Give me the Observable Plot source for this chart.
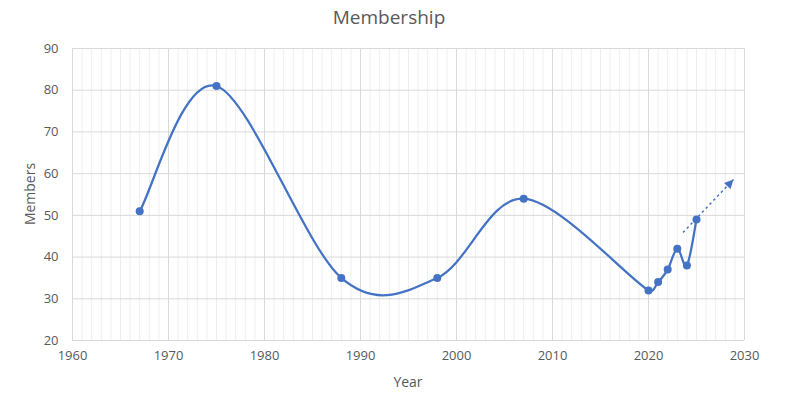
<!DOCTYPE html>
<html><head><meta charset="utf-8">
<script src="https://cdn.jsdelivr.net/npm/d3@7"></script>
<script src="https://cdn.jsdelivr.net/npm/@observablehq/plot@0.6"></script>
<style>
body{margin:0;background:#fff}
#wrap{position:relative;width:797px;height:396px;font-family:'Open Sans',sans-serif;color:#595959}
#title{position:absolute;top:4px;left:0;width:778px;text-align:center;font-size:19px}
#xlab{position:absolute;top:372px;left:0;width:816px;text-align:center;font-size:14px}
#ylab{position:absolute;left:29px;top:194px;transform:translate(-50%,-50%) rotate(-90deg);font-size:14px;white-space:nowrap}
#wrap svg{position:absolute;left:0;top:0}
</style>
</head><body>
<div id="wrap"><div id="title">Membership</div><div id="xlab">Year</div><div id="ylab">Members</div></div>
<script>
const title = "Membership";
const xLabel = "Year";
const yLabel = "Members";
const years = [1967, 1975, 1988, 1998, 2007, 2020, 2021, 2022, 2023, 2024, 2025];
const members = [51, 81, 35, 35, 54, 32, 34, 37, 42, 38, 49];
const trendYears = [2023.6, 2028.85];
const trendMembers = [45.9, 58.6];
const xTicks = [1960, 1970, 1980, 1990, 2000, 2010, 2020, 2030];
const yTicks = [20, 30, 40, 50, 60, 70, 80, 90];
const minorYears = d3.range(1960, 2031);

const data = years.map((y, i) => ({year: y, members: members[i]}));
const trend = [{x1: trendYears[0], y1: trendMembers[0], x2: trendYears[1], y2: trendMembers[1]}];

// Spreadsheet-style smoothed line: cardinal Bezier whose control arms are capped at half the segment length
function smoothCurve(context) {
  let pts = [];
  return {
    areaStart() {}, areaEnd() {},
    lineStart() { pts = []; },
    point(x, y) { pts.push([+x, +y]); },
    lineEnd() {
      const n = pts.length;
      if (!n) return;
      context.moveTo(pts[0][0], pts[0][1]);
      for (let i = 0; i < n - 1; i++) {
        const p0 = pts[Math.max(i - 1, 0)], p1 = pts[i], p2 = pts[i + 1], p3 = pts[Math.min(i + 2, n - 1)];
        const d12 = Math.hypot(p2[0] - p1[0], p2[1] - p1[1]);
        const d02 = Math.hypot(p2[0] - p0[0], p2[1] - p0[1]);
        const d13 = Math.hypot(p3[0] - p1[0], p3[1] - p1[1]);
        let f1 = 1 / 6, f2 = 1 / 6;
        if (d02 > 0 && d02 / 6 > d12 / 2) f1 = d12 / 2 / d02;
        if (d13 > 0 && d13 / 6 > d12 / 2) f2 = d12 / 2 / d13;
        context.bezierCurveTo(
          p1[0] + (p2[0] - p0[0]) * f1, p1[1] + (p2[1] - p0[1]) * f1,
          p2[0] - (p3[0] - p1[0]) * f2, p2[1] - (p3[1] - p1[1]) * f2,
          p2[0], p2[1]);
      }
    }
  };
}

const chart = Plot.plot({
  width: 797,
  height: 396,
  marginLeft: 72,
  marginRight: 53,
  marginTop: 48,
  marginBottom: 56,
  style: {fontFamily: "'Open Sans', sans-serif", fontSize: "13px", color: "#595959", background: "transparent"},
  x: {domain: [1960, 2030], ticks: xTicks, tickFormat: d => String(d), tickSize: 0, tickPadding: 10, label: null},
  y: {domain: [20, 90], ticks: yTicks, tickSize: 0, tickPadding: 14, label: null},
  marks: [
    Plot.ruleX(minorYears.filter(d => d % 10 !== 0), {stroke: "#eeeeee", strokeWidth: 1, strokeOpacity: 1}),
    Plot.ruleX(xTicks, {stroke: "#d9d9d9", strokeWidth: 1, strokeOpacity: 1}),
    Plot.ruleY(yTicks, {stroke: "#d9d9d9", strokeWidth: 1, strokeOpacity: 1}),
    Plot.line(data, {x: "year", y: "members", stroke: "#4472C4", strokeWidth: 2.25, curve: smoothCurve}),
    Plot.dot(data, {x: "year", y: "members", fill: "#4472C4", r: 4}),
    Plot.link(trend, {x1: "x1", y1: "y1", x2: "x2", y2: "y2", stroke: "#4472C4", strokeWidth: 1.5, strokeDasharray: "2.5,3", className: "trend"})
  ]
});
document.getElementById("wrap").prepend(chart);

// filled arrowhead like the original
const svg = d3.select(chart);
const defs = svg.append("defs");
defs.append("marker")
  .attr("id", "tri").attr("viewBox", "0 0 10 10").attr("refX", 10).attr("refY", 5)
  .attr("markerWidth", 10).attr("markerHeight", 9).attr("markerUnits", "userSpaceOnUse")
  .attr("orient", "auto")
  .append("path").attr("d", "M0,0L10,5L0,10Z").attr("fill", "#4472C4");
svg.selectAll(".trend path, .trend line").attr("marker-end", "url(#tri)");
</script>
</body></html>
